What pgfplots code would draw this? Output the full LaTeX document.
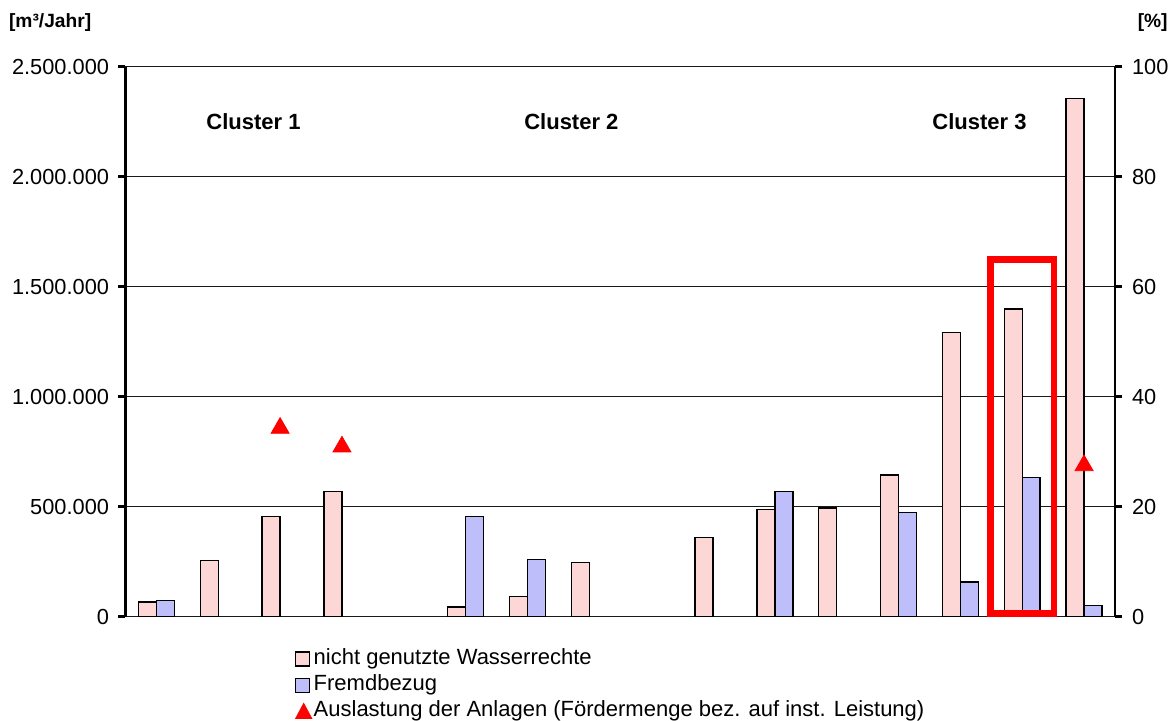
\documentclass[border=0pt]{standalone}
\usepackage{fontspec}
\setmainfont{Liberation Sans}
\usepackage{pgfplots}
\pgfplotsset{compat=1.18}

\definecolor{rechte}{RGB}{253,214,214}
\definecolor{fremd}{RGB}{190,190,250}

\pgfplotsset{
  base/.style={
    scale only axis, width=494.75pt, height=275pt,
    at={(0pt,0pt)}, anchor=south west,
    xmin=0.5, xmax=16.5, xtick=\empty,
    axis x line=none,
    tick align=outside, major tick length=3.5pt,
    major tick style={black, line width=1.4pt},
    y axis line style={line width=1.4pt},
    /pgf/number format/assume math mode=true,
    ticklabel style={font=\fontsize{10.9}{12}\selectfont},
    clip=false,
  },
}

\begin{document}
\begin{tikzpicture}[font=\fontsize{11}{13}\selectfont]
\path[use as bounding box] (-62.75pt,-51.65pt) rectangle (523.25pt,308.35pt);

% left axis: volumes in m3/Jahr
\begin{axis}[base,
    axis y line*=left,
    ymin=0, ymax=2500000,
    ytick={0,500000,1000000,1500000,2000000,2500000},
    scaled y ticks=false,
    yticklabel style={xshift=-1.2pt, /pgf/number format/.cd, fixed, 1000 sep={.}},
    ymajorgrids,
    major grid style={black!90, line width=0.5pt},
]
\addplot[ybar, bar width=0.29, bar shift=-0.145, fill=rechte, draw=black, line width=0.7pt] coordinates {
    (1,67000) (2,256000) (3,455000) (4,570000) (6,44000) (7,91000) (8,247000)
    (10,360000) (11,486000) (12,495000) (13,644000) (14,1291000) (15,1399000) (16,2356000)
};
\addplot[ybar, bar width=0.29, bar shift=0.145, fill=fremd, draw=black, line width=0.7pt] coordinates {
    (1,73000) (6,456000) (7,259000) (11,568000) (13,474000) (14,158000) (15,634000) (16,50000)
};
\draw[red, line width=3.35pt] (axis cs:14.487,15000) rectangle (axis cs:15.513,1624000);
\node[font=\fontsize{11}{13}\selectfont\bfseries] at (axis cs:2.57,2248600) {Cluster 1};
\node[font=\fontsize{11}{13}\selectfont\bfseries] at (axis cs:7.71,2248600) {Cluster 2};
\node[font=\fontsize{11}{13}\selectfont\bfseries] at (axis cs:14.31,2248600) {Cluster 3};
\end{axis}

% right axis: Auslastung in %
\begin{axis}[base,
    axis y line*=right,
    ymin=0, ymax=100,
    ytick={0,20,40,60,80,100},
    yticklabel style={xshift=1.5pt},
    legend style={at={(0.171,-0.055)}, anchor=north west, draw=none, fill=none,
        inner sep=0pt, row sep=1.5pt, cells={anchor=west},
        nodes={inner sep=0.8pt, text height=7.8pt, text depth=2.2pt}},
]
\addlegendimage{legend image code/.code={\draw[fill=rechte, draw=black, line width=0.6pt] (0pt,-3.5pt) rectangle (7pt,3.5pt);}}
\addlegendentry{nicht genutzte Wasserrechte}
\addlegendimage{legend image code/.code={\draw[fill=fremd, draw=black, line width=0.6pt] (0pt,-3.5pt) rectangle (7pt,3.5pt);}}
\addlegendentry{Fremdbezug}
\addplot[only marks, mark=triangle*, mark size=5.2pt, color=red,
    legend image code/.code={\fill[red] (0pt,-3.5pt) -- (8pt,-3.5pt) -- (4pt,4pt) -- cycle;}]
    coordinates {(3,34.3) (4,30.9) (16,27.5)};
\addlegendentry{Auslastung der Anlagen (Fördermenge bez. auf inst. Leistung)}
\end{axis}

\node[anchor=west, inner sep=0pt, font=\fontsize{9.6}{11}\selectfont\bfseries] at (-58.4pt,297.1pt) {[m³/Jahr]};
\node[anchor=east, inner sep=0pt, font=\fontsize{9.6}{11}\selectfont\bfseries] at (521.25pt,297.1pt) {[\%]};
\end{tikzpicture}
\end{document}
